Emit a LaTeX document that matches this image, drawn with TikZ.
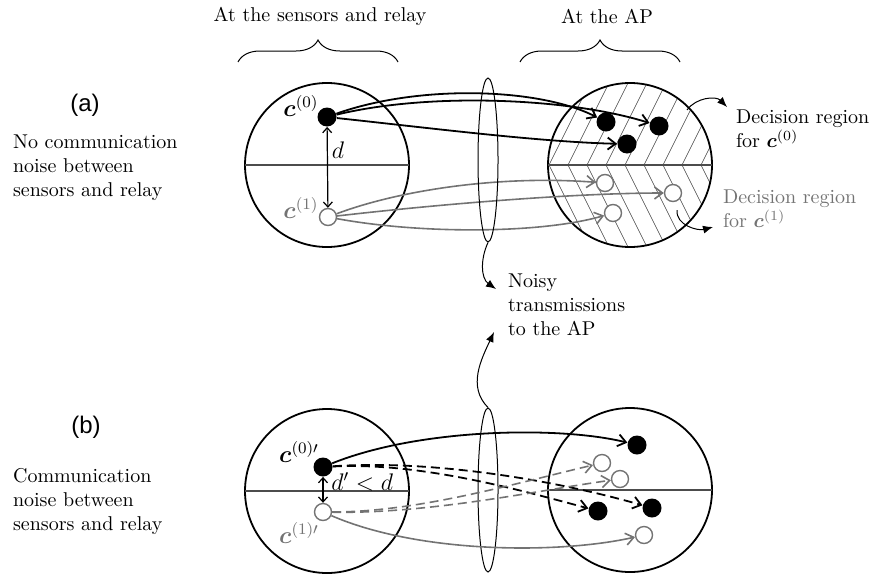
\documentclass[tikz,border=0pt]{standalone}
\usepackage{amsmath}
\usepackage{amssymb}
\usepackage{fontspec}
\newfontfamily\helv{Liberation Sans}
\usetikzlibrary{shapes.geometric,decorations.pathreplacing,arrows.meta}
\definecolor{grey}{gray}{0.45}

\begin{document}
\begin{tikzpicture}[x=0.5pt,y=0.5pt,>={Straight Barb[length=4pt,width=6pt]},
    fdot/.style={circle,fill=black,inner sep=0pt,minimum size=9.5pt},
    odot/.style={circle,draw=grey,fill=white,line width=0.7pt,inner sep=0pt,minimum size=8.5pt},
    region/.style={line width=0.9pt},
    midline/.style={line width=0.8pt,black!70},
    hatch/.style={line width=0.3pt,black!75},
    lens/.style={ellipse,draw,line width=0.5pt,minimum width=10pt,minimum height=82pt,inner sep=0pt},
    tx/.style={line width=0.9pt,->},
    txg/.style={line width=0.8pt,->,grey},
    dist/.style={line width=0.6pt,{Straight Barb[length=2.5pt,width=4.5pt]}-{Straight Barb[length=2.5pt,width=4.5pt]}},
    noisy/.style={dash pattern=on 4.5pt off 2.5pt},
    pointer/.style={line width=0.5pt,-{Latex[length=5pt,width=4pt]}},
    brc/.style={decorate,decoration={brace,amplitude=11pt},line width=0.5pt}]
			\useasboundingbox (0,0) rectangle (870,-573);
			\node (hds) at (320,-16) {At the sensors and relay};
			\node (hdap) at (607,-16) {At the AP};
			\draw[brc] (238,-62) -- (398,-62);
			\draw[brc] (520,-62) -- (680,-62);
			% (a) no noise between sensors and relay
			\node (la) at (85,-105) {\helv\large (a)};
			\node[anchor=west,align=left] (ta) at (6,-168) {No communication\\noise between\\sensors and relay};
			\begin{scope}
				\clip (630,-165) circle (82);
				\foreach \x in {511,530,...,720}{
					\draw[hatch] (\x,-165) -- ++(41,82);
					\draw[hatch] (\x,-165) -- ++(41,-82);
				}
			\end{scope}
			\draw[region] (327,-165) circle (82);
			\draw[midline] (245,-165) -- (409,-165);
			\draw[region] (630,-165) circle (82);
			\draw[midline] (548,-165) -- (712,-165);
			\node[fdot] (c0) at (327,-117) {};
			\node[odot] (c1) at (328,-217) {};
			\node (lc0) at (301,-106) {\large$\boldsymbol{c}^{(0)}$};
			\node[text=grey] (lc1) at (301,-208) {\large$\boldsymbol{c}^{(1)}$};
			\draw[dist] (c0) -- (c1);
			\node (dd) at (338,-150) {\large$d$};
			\node[fdot] (a1) at (606,-122) {};
			\node[fdot] (a2) at (659,-126) {};
			\node[fdot] (a3) at (627,-144) {};
			\node[odot] (b1) at (605,-183) {};
			\node[odot] (b2) at (673,-193) {};
			\node[odot] (b3) at (613,-213) {};
			\draw[tx] (c0) .. controls (420,-84) and (540,-88) .. (a1);
			\draw[tx] (c0) .. controls (430,-92) and (570,-98) .. (a2);
			\draw[tx] (c0) .. controls (430,-128) and (540,-142) .. (a3);
			\draw[txg] (c1) .. controls (400,-190) and (500,-175) .. (b1);
			\draw[txg] (c1) .. controls (450,-203) and (580,-193) .. (b2);
			\draw[txg] (c1) .. controls (420,-234) and (540,-234) .. (b3);
			\node[anchor=west,align=left] (dr0) at (729,-129) {Decision region\\for $\boldsymbol{c}^{(0)}$};
			\node[anchor=west,align=left,text=grey] (dr1) at (716,-209) {Decision region\\for $\boldsymbol{c}^{(1)}$};
			\coordinate (p0) at (687,-110);
			\coordinate (q0) at (727,-107);
			\draw[pointer] (p0) to[bend left=50] (q0);
			\coordinate (p1) at (677,-210);
			\coordinate (q1) at (713,-227);
			\draw[pointer] (p1) to[out=-95,in=195] (q1);
			% transmissions to the AP
			\node[lens] (ea) at (488,-160) {};
			\node[lens] (eb) at (488,-490) {};
			\node[anchor=west,align=left] (nz) at (501,-305) {Noisy\\transmissions\\to the AP};
			\coordinate (nza) at (496,-289);
			\coordinate (nzb) at (494,-332);
			\draw[pointer] (ea.south) to[out=-115,in=145] (nza);
			\draw[pointer] (eb.north) to[out=135,in=-115] (nzb);
			% (b) noise between sensors and relay
			\node (lb) at (86,-427) {\helv\large (b)};
			\node[anchor=west,align=left] (tb) at (6,-501) {Communication\\noise between\\sensors and relay};
			\draw[region] (327,-491) circle (82);
			\draw[midline] (245,-491) -- (409,-491);
			\draw[region] (630,-490) circle (82);
			\draw[midline] (548,-490) -- (712,-490);
			\node[fdot] (e0) at (323,-467) {};
			\node[odot] (e1) at (323,-512) {};
			\node (le0) at (299,-452) {\large$\boldsymbol{c}^{(0)\prime}$};
			\node[text=grey] (le1) at (299,-533) {\large$\boldsymbol{c}^{(1)\prime}$};
			\draw[dist] (e0) -- (e1);
			\node[anchor=west,inner sep=1pt] (dp) at (329,-482) {\large$d' < d$};
			\node[fdot] (f1) at (637,-445) {};
			\node[fdot] (f2) at (598,-511) {};
			\node[fdot] (f3) at (652,-508) {};
			\node[odot] (g1) at (602,-463) {};
			\node[odot] (g2) at (620,-479) {};
			\node[odot] (g3) at (644,-535) {};
			\draw[tx] (e0) .. controls (420,-428) and (560,-426) .. (f1);
			\draw[tx,noisy] (e0) .. controls (420,-462) and (520,-490) .. (f2);
			\draw[tx,noisy] (e0) .. controls (420,-460) and (540,-476) .. (f3);
			\draw[txg,noisy] (e1) .. controls (420,-512) and (520,-482) .. (g1);
			\draw[txg,noisy] (e1) .. controls (430,-514) and (540,-490) .. (g2);
			\draw[txg] (e1) .. controls (420,-554) and (560,-554) .. (g3);
\end{tikzpicture}
\end{document}
